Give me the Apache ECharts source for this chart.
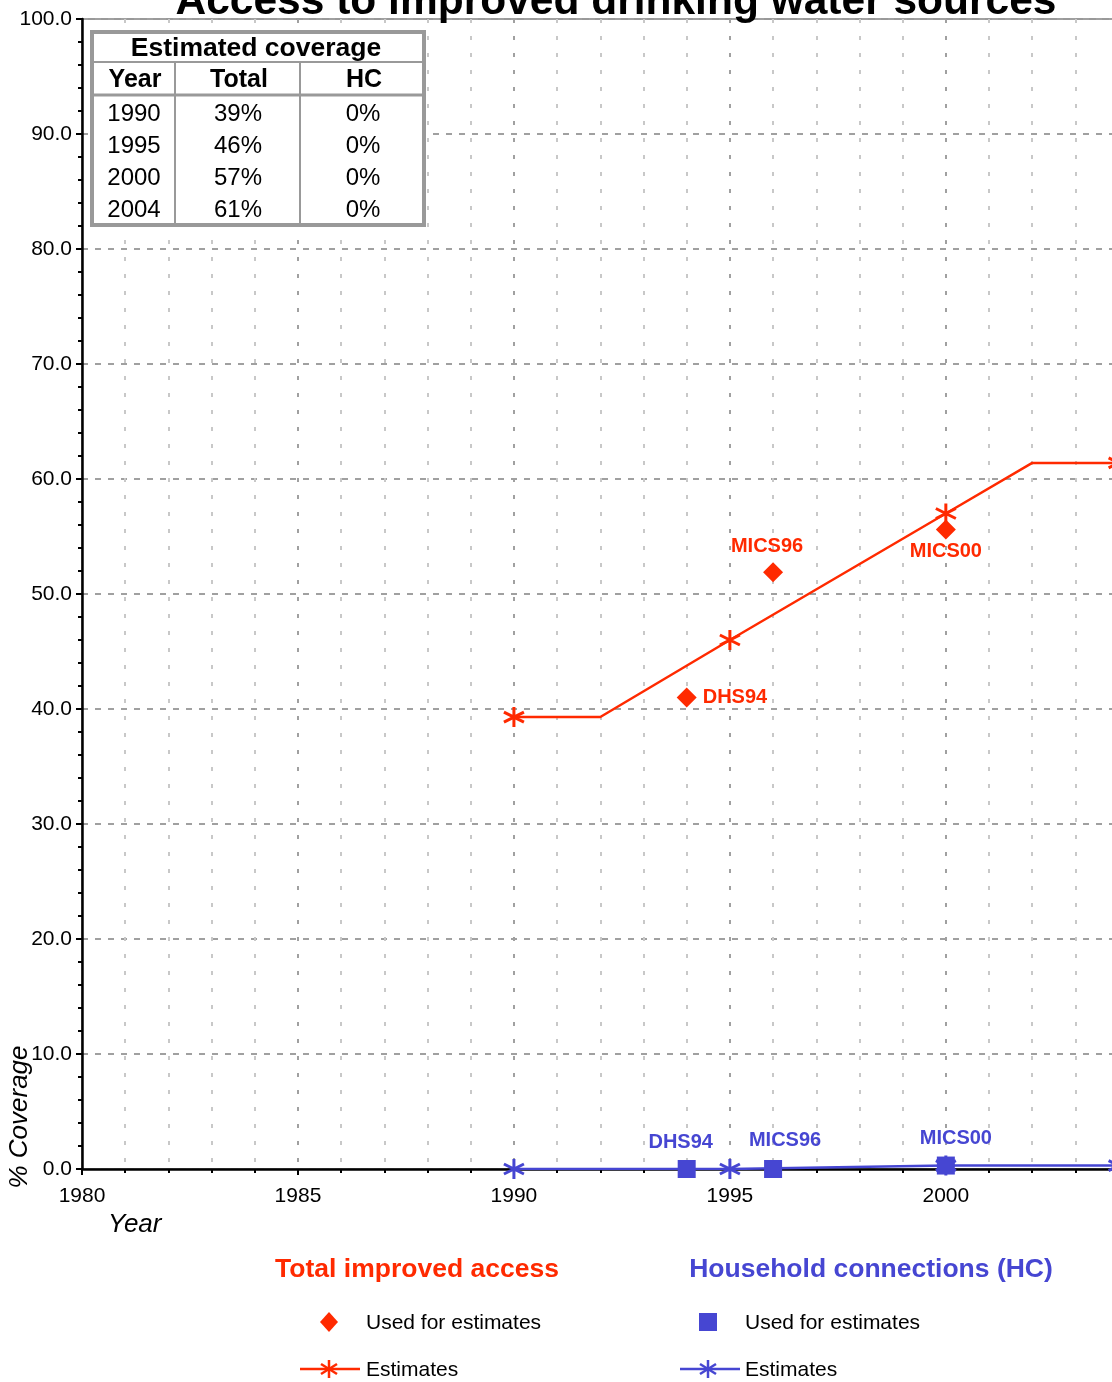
<!DOCTYPE html>
<html>
<head>
<meta charset="utf-8">
<script src="https://cdn.jsdelivr.net/npm/echarts@6/dist/echarts.min.js"></script>
<style>
html,body{margin:0;padding:0;overflow:hidden;background:#fff;}
#chart{width:1206px;height:1382px;}
</style>
</head>
<body>
<div id="chart"></div>
<script>
// ---- data ----
var estYears = [1990, 1992, 1995, 2000, 2002, 2004];
var totalEstimates = [39.3, 39.3, 46.0, 57.0, 61.4, 61.4];
var hcEstimates = [0.0, 0.0, 0.0, 0.3, 0.3, 0.3];
var markerYears = [1990, 1995, 2000, 2004];
var surveyNames = ['DHS94', 'MICS96', 'MICS00'];
var surveyYears = [1994, 1996, 2000];
var totalSurvey = [41.0, 51.9, 55.6];
var hcSurvey = [0.0, 0.0, 0.3];
var tableYears = ['1990', '1995', '2000', '2004'];
var tableTotal = ['39%', '46%', '57%', '61%'];
var tableHC = ['0%', '0%', '0%', '0%'];
var titleText = 'Access to improved drinking water sources';

var RED = '#ff2a00';
var BLUE = '#4646d2';
var FONT = "'Liberation Sans', Arial, sans-serif";
var STAR = 'path://M0,-10L0,10M-8.66,-5L8.66,5M-8.66,5L8.66,-5';

function pairs(xs, ys) { return xs.map(function (x, i) { return [x, ys[i]]; }); }
function surveyData(ys) {
  return surveyYears.map(function (x, i) { return { value: [x, ys[i]], name: surveyNames[i] }; });
}
function starSymbol(value) { return markerYears.indexOf(value[0]) >= 0 ? STAR : 'none'; }

var chart = echarts.init(document.getElementById('chart'));

var graphics = [];
// title
graphics.push({ type: 'text', x: 616, y: 2, z: 100,
  style: { text: titleText, font: 'bold 42.5px ' + FONT, fill: '#000', align: 'center', verticalAlign: 'middle' } });
// axis names
graphics.push({ type: 'text', x: 20, y: 1117, rotation: Math.PI / 2, z: 100,
  style: { text: '% Coverage', font: 'italic 26px ' + FONT, fill: '#000', align: 'center', verticalAlign: 'middle' } });
graphics.push({ type: 'text', x: 108, y: 1225, z: 100,
  style: { text: 'Year', font: 'italic 26px ' + FONT, fill: '#000', align: 'left', verticalAlign: 'middle' } });

// table
graphics.push({ type: 'rect', z: 50, shape: { x: 92, y: 32, width: 332, height: 193 },
  style: { fill: '#fff', stroke: '#999', lineWidth: 4 } });
graphics.push({ type: 'line', z: 51, shape: { x1: 94, y1: 62, x2: 422, y2: 62 }, style: { stroke: '#999', lineWidth: 2 } });
graphics.push({ type: 'line', z: 51, shape: { x1: 94, y1: 95, x2: 422, y2: 95 }, style: { stroke: '#999', lineWidth: 3 } });
graphics.push({ type: 'line', z: 51, shape: { x1: 175, y1: 62, x2: 175, y2: 223 }, style: { stroke: '#999', lineWidth: 2 } });
graphics.push({ type: 'line', z: 51, shape: { x1: 300, y1: 62, x2: 300, y2: 223 }, style: { stroke: '#999', lineWidth: 2 } });
graphics.push({ type: 'text', z: 52, x: 256, y: 49,
  style: { text: 'Estimated coverage', font: 'bold 26.5px ' + FONT, fill: '#000', align: 'center', verticalAlign: 'middle' } });
var colX = [135, 239, 364];
['Year', 'Total', 'HC'].forEach(function (h, i) {
  graphics.push({ type: 'text', z: 52, x: colX[i], y: 80,
    style: { text: h, font: 'bold 25px ' + FONT, fill: '#000', align: 'center', verticalAlign: 'middle' } });
});
tableYears.forEach(function (yr, r) {
  var yy = 114 + r * 32;
  [yr, tableTotal[r], tableHC[r]].forEach(function (t, i) {
    graphics.push({ type: 'text', z: 52, x: colX[i] - 1, y: yy,
      style: { text: t, font: '24px ' + FONT, fill: '#000', align: 'center', verticalAlign: 'middle' } });
  });
});

// legend
graphics.push({ type: 'text', x: 417, y: 1270,
  style: { text: 'Total improved access', font: 'bold 26.5px ' + FONT, fill: RED, align: 'center', verticalAlign: 'middle' } });
graphics.push({ type: 'text', x: 871, y: 1270,
  style: { text: 'Household connections (HC)', font: 'bold 26.5px ' + FONT, fill: BLUE, align: 'center', verticalAlign: 'middle' } });
graphics.push({ type: 'polygon', shape: { points: [[329, 1312], [338, 1322], [329, 1332], [320, 1322]] }, style: { fill: RED } });
graphics.push({ type: 'rect', shape: { x: 699, y: 1313, width: 18, height: 18 }, style: { fill: BLUE } });
graphics.push({ type: 'line', shape: { x1: 300, y1: 1369, x2: 360, y2: 1369 }, style: { stroke: RED, lineWidth: 2.5 } });
graphics.push({ type: 'line', shape: { x1: 680, y1: 1369, x2: 740, y2: 1369 }, style: { stroke: BLUE, lineWidth: 2.5 } });
[[329, RED], [708, BLUE]].forEach(function (p) {
  var cx = p[0], cy = 1369;
  graphics.push({ type: 'polyline', shape: { points: [[cx, cy - 9], [cx, cy + 9]] }, style: { stroke: p[1], lineWidth: 2.5 } });
  graphics.push({ type: 'polyline', shape: { points: [[cx - 8, cy - 5], [cx + 8, cy + 5]] }, style: { stroke: p[1], lineWidth: 2.5 } });
  graphics.push({ type: 'polyline', shape: { points: [[cx - 8, cy + 5], [cx + 8, cy - 5]] }, style: { stroke: p[1], lineWidth: 2.5 } });
});
['Used for estimates', 'Estimates'].forEach(function (t, i) {
  var yy = 1323 + i * 47;
  graphics.push({ type: 'text', x: 366, y: yy, style: { text: t, font: '21px ' + FONT, fill: '#000', align: 'left', verticalAlign: 'middle' } });
  graphics.push({ type: 'text', x: 745, y: yy, style: { text: t, font: '21px ' + FONT, fill: '#000', align: 'left', verticalAlign: 'middle' } });
});

var labelBase = { show: true, fontFamily: FONT, fontWeight: 'bold', fontSize: 20,
  formatter: function (p) { return p.data.name; } };

var option = {
  animation: false,
  backgroundColor: '#fff',
  grid: { left: 82, right: 1, top: 19, bottom: 213, show: true, borderColor: '#999', borderWidth: 2, containLabel: false },
  xAxis: {
    type: 'value', min: 1980, max: 2006, interval: 5,
    axisLine: { show: true, onZero: false, lineStyle: { color: '#000', width: 2.5 } },
    axisTick: { show: true, length: 6, lineStyle: { color: '#000', width: 2 } },
    minorTick: { show: true, splitNumber: 5, length: 4, lineStyle: { color: '#000', width: 2 } },
    axisLabel: { fontFamily: FONT, fontSize: 21, color: '#000', margin: 17,
      formatter: function (v) { return String(v); },
      showMaxLabel: false },
    splitLine: { show: true, lineStyle: { color: '#a0a0a0', width: 2, type: [4, 13] } },
    minorSplitLine: { show: true, lineStyle: { color: '#c8c8c8', width: 2, type: [4, 13] } }
  },
  yAxis: {
    type: 'value', min: 0, max: 100, interval: 10,
    axisLine: { show: true, onZero: false, lineStyle: { color: '#000', width: 2.5 } },
    axisTick: { show: true, length: 6, lineStyle: { color: '#000', width: 2 } },
    minorTick: { show: true, splitNumber: 5, length: 4, lineStyle: { color: '#000', width: 2 } },
    axisLabel: { fontFamily: FONT, fontSize: 21, color: '#000', margin: 10,
      formatter: function (v) { return v.toFixed(1); } },
    splitLine: { show: true, lineStyle: { color: '#a0a0a0', width: 2, type: [6, 7] } }
  },
  graphic: graphics,
  series: [
    { name: 'Total estimates', type: 'line', data: pairs(estYears, totalEstimates),
      symbol: starSymbol, symbolSize: 20, showAllSymbol: true,
      lineStyle: { color: RED, width: 2.5 },
      itemStyle: { color: RED, borderColor: RED, borderWidth: 3 }, z: 5 },
    { name: 'HC estimates', type: 'line', data: pairs(estYears, hcEstimates),
      symbol: starSymbol, symbolSize: 20, showAllSymbol: true,
      lineStyle: { color: BLUE, width: 2.5 },
      itemStyle: { color: BLUE, borderColor: BLUE, borderWidth: 3 }, z: 5 },
    { name: 'Total surveys', type: 'scatter', data: surveyData(totalSurvey),
      symbol: 'diamond', symbolSize: [20, 20], itemStyle: { color: RED, opacity: 1 }, z: 6,
      label: Object.assign({}, labelBase, { color: RED, position: 'top', distance: 8 })
    },
    { name: 'HC surveys', type: 'scatter', data: surveyData(hcSurvey),
      symbol: 'rect', symbolSize: 18, itemStyle: { color: BLUE, opacity: 1 }, z: 6,
      label: Object.assign({}, labelBase, { color: BLUE, position: 'top', distance: 8 }) }
  ]
};
// per-point label placement
option.series[2].data[0].label = { position: 'right', distance: 6 };
option.series[2].data[1].label = { position: 'top', distance: 6, offset: [-6, 0] };
option.series[2].data[2].label = { position: 'bottom', distance: 2 };
option.series[3].data[0].label = { position: 'top', distance: 8, offset: [-6, 0] };
option.series[3].data[1].label = { position: 'top', distance: 10, offset: [12, 0] };
option.series[3].data[2].label = { position: 'top', distance: 8, offset: [10, 0] };

chart.setOption(option);
</script>
</body>
</html>
